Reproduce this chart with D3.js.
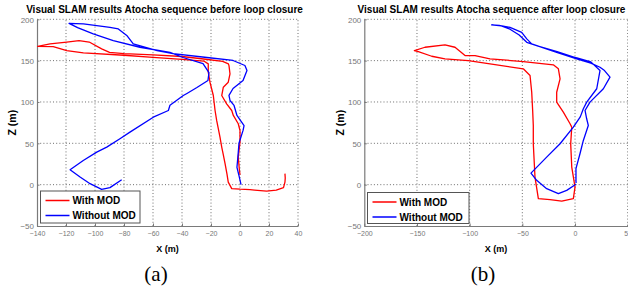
<!DOCTYPE html>
<html>
<head>
<meta charset="utf-8">
<script src="https://cdn.jsdelivr.net/npm/d3@7"></script>
<style>
  body { margin: 0; background: #fff; }
</style>
</head>
<body>
<svg class="chart" width="628" height="290"></svg>
<script>
// tick labels
const yTicks = [-50, 0, 50, 100, 150, 200]
const xTicksA = [-140, -120, -100, -80, -60, -40, -20, 0, 20, 40]
const xTicksB = [-200, -150, -100, -50, 0, 50]
const seriesNames = ["With MOD", "Without MOD"]
const seriesColors = ["#ff0000", "#0000ff"]

// (a) before loop closure, [X, Z] in metres
const redA = [[31,13.3],[31.2,8],[31,3],[30,-3.6],[25,-6.5],[18.4,-7.7],[10,-6.5],[6.9,-6],[0,-5.5],[-5.7,-4.8],
  [-8.1,3.1],[-9,13],[-10.3,25.4],[-11.5,36],[-12.6,45.4],[-13.8,57.5],[-15,68],[-16.1,77.7],[-17.2,89.7],
  [-18.4,107.8],[-20.7,123.9],[-21.9,136],[-21.9,146.1],[-25,149.5],[-40,151.5],[-60,154],[-80,156.5],
  [-108,159.4],[-119.5,162.2],[-128.8,167],[-139.5,167.2],[-131,170.3],[-119.5,172.5],[-111,174.3],
  [-104,172.5],[-95.4,164.3],[-90,160],[-80,158.5],[-60,157],[-40,155],[-25,152],[-12,149],[-8,146],
  [-7.6,144],[-6.9,134],[-8.1,123.9],[-11.5,117.9],[-12.6,107.8],[-9.2,97.8],[-5.7,89.7],[-4.6,83.7],
  [-1.2,73.7],[0,65.5],[0,51.4],[-1.2,33.3],[-0.5,19.3],[0,12]]
const blueA = [[0.7,0],[-0.7,11],[-2.1,21],[-1.4,35],[-0.7,50],[2.1,65.6],[2.8,71.5],[-2.1,83.7],[-4.1,95.8],
  [-6.9,101.8],[-7.6,108],[-4.8,116.3],[2.1,126],[4.8,138.1],[3.4,144.1],[-4.8,150.2],[-22.8,153.8],
  [-46.2,158.6],[-57.2,162.2],[-73.6,170.3],[-78.1,180.5],[-83.9,188.4],[-89.7,190.3],[-98.8,192.4],
  [-108,194.4],[-117.9,195],[-112,190],[-101.2,182.4],[-87.4,174.3],[-69,166.2],[-48.3,160.1],
  [-39.3,153.8],[-25.5,146.5],[-21.4,135.6],[-22.1,126],[-29.7,117.5],[-36.6,110.3],[-39.1,107.8],
  [-48.3,96],[-49.4,89.7],[-59.8,81.6],[-75.9,63.5],[-82.8,55.6],[-91.9,45.4],[-98.8,39.4],[-108.1,29.3],
  [-117.2,18.1],[-110.3,9.2],[-103.4,1.2],[-95.4,-5.7],[-89.7,-3.6],[-81.6,6]]

// (b) after loop closure
const redB = [[-3.1,69.6],[-4.7,73.7],[-11.1,87.7],[-17.4,99.8],[-17.4,111.8],[-14.2,128],[-15.8,140.1],
  [-20.6,144.9],[-49.1,148.9],[-80.7,152.2],[-94.9,156],[-104.4,156.2],[-113.9,166.2],[-123.4,169.1],
  [-142.4,166.2],[-152.5,162.2],[-148.7,161],[-136,155.3],[-123.4,152.2],[-101.3,150.1],[-80.7,146.1],
  [-49.1,140.1],[-42.7,132],[-41.1,111.8],[-40.2,89.7],[-39.6,71.6],[-39.6,49.5],[-38,9.2],[-34.8,-16.9],
  [-23.7,-18.1],[-12.6,-19.8],[-1.6,-16.9],[0,-2.9],[-3.1,21.3],[-4.1,49.5],[-3.1,69.6]]
const blueB = [[1,2],[0.9,5.2],[0.9,19.3],[4.7,37.4],[7.9,53.5],[12.6,71.6],[11,80],[9.5,89.7],[14.2,99.8],
  [26.9,116],[33.2,130],[28,138],[23.7,142],[15,147],[1.6,152.2],[-17.4,160.1],[-30,165.5],[-41.1,170.3],
  [-45.8,176.3],[-50.6,184.3],[-61.7,190.3],[-72,192.5],[-79.1,193.2],[-70,192],[-61.7,188],[-53,181],
  [-45.8,172.2],[-35,167.5],[-17,161],[1,153.5],[15,148.5],[23.7,138],[20.6,116],[11.1,99.8],[7.9,91.8],
  [5,82],[-1.6,69.6],[-14.2,49.5],[-26.9,33.3],[-41.8,14],[-36.4,5.2],[-26.9,-4.8],[-15.8,-10.9],
  [-7.9,-6.9],[0.9,0.4]]

const svg = d3.select("svg.chart").style("font-family", "'Liberation Sans', Arial, sans-serif")

const yScale = d3.scaleLinear().domain([-50, 200]).range([226, 19.3])

const panels = [
  { title: "Visual SLAM results Atocha sequence before loop closure", titleX: 164.5, tag: "(a)", tagX: 156,
    x: d3.scaleLinear().domain([-140, 40]).range([37, 298]), ticks: xTicksA,
    red: redA, blue: blueA, zX: 12, legend: [40.5, 191, 99.5, 32] },
  { title: "Visual SLAM results Atocha sequence after loop closure", titleX: 491.5, tag: "(b)", tagX: 483,
    x: d3.scaleLinear().domain([-200, 50]).range([364.3, 627.7]), ticks: xTicksB,
    red: redB, blue: blueB, zX: 340, legend: [367.5, 192.5, 101.5, 31] }
]

panels.forEach(p => {
  const g = svg.append("g")
  const [x0, x1] = p.x.range()

  // dotted grid
  g.selectAll("line.vg").data(p.ticks.slice(1)).enter().append("line")
    .attr("x1", d => p.x(d)).attr("x2", d => p.x(d))
    .attr("y1", yScale(-50)).attr("y2", yScale(200))
    .attr("stroke", "#5e5e5e").attr("stroke-width", 0.9).attr("stroke-dasharray", "1,2.2")
  g.selectAll("line.hg").data(yTicks.slice(1)).enter().append("line")
    .attr("x1", x0).attr("x2", x1)
    .attr("y1", d => yScale(d)).attr("y2", d => yScale(d))
    .attr("stroke", "#5e5e5e").attr("stroke-width", 0.9).attr("stroke-dasharray", "1,2.2")

  // axes
  const xAxis = g.append("g").attr("transform", `translate(0,${yScale(-50)})`)
    .call(d3.axisBottom(p.x).tickValues(p.ticks).tickSizeInner(-2.5).tickSizeOuter(0).tickPadding(5))
  const yAxis = g.append("g").attr("transform", `translate(${x0},0)`)
    .call(d3.axisLeft(yScale).tickValues(yTicks).tickSizeInner(-2.5).tickSizeOuter(0).tickPadding(3))
  ;[xAxis, yAxis].forEach(a => {
    a.attr("font-family", null)
    a.select(".domain").attr("stroke", "#7a7a7a").attr("stroke-width", 1.2)
    a.selectAll(".tick line").attr("stroke", "#7a7a7a")
    a.selectAll("text").attr("fill", "#777")
  })
  xAxis.selectAll("text").attr("font-size", 7)
  yAxis.selectAll("text").attr("font-size", 8).attr("dy", "0.35em")

  // trajectories
  const line = d3.line().x(d => p.x(d[0])).y(d => yScale(d[1]))
  ;[p.red, p.blue].forEach((s, i) => {
    g.append("path").datum(s).attr("d", line)
      .attr("fill", "none").attr("stroke", seriesColors[i]).attr("stroke-width", 1.3)
      .attr("stroke-linejoin", "round")
  })

  // labels
  g.append("text").attr("x", p.titleX).attr("y", 12.5).attr("text-anchor", "middle")
    .attr("font-size", 10).attr("font-weight", "bold").text(p.title)
  g.append("text").attr("x", (x0 + x1) / 2).attr("y", 252).attr("text-anchor", "middle")
    .attr("font-size", 9).attr("font-weight", "bold").text("X (m)")
  g.append("text").attr("transform", `translate(${p.zX + 4},${(yScale(-50) + yScale(200)) / 2}) rotate(-90)`)
    .attr("text-anchor", "middle").attr("font-size", 10.5).attr("font-weight", "bold").text("Z (m)")
  g.append("text").attr("x", p.tagX).attr("y", 281).attr("text-anchor", "middle")
    .style("font-family", "'Liberation Serif', 'DejaVu Serif', serif").attr("font-size", 21).text(p.tag)

  // legend
  const [lx, ly, lw, lh] = p.legend
  g.append("rect").attr("x", lx).attr("y", ly).attr("width", lw).attr("height", lh)
    .attr("fill", "#fff").attr("stroke", "#555").attr("stroke-width", 1)
  seriesNames.forEach((n, i) => {
    const yy = ly + 9.5 + i * 15
    g.append("line").attr("x1", lx + 5).attr("x2", lx + 29).attr("y1", yy).attr("y2", yy)
      .attr("stroke", seriesColors[i]).attr("stroke-width", 1.5)
    g.append("text").attr("x", lx + 32).attr("y", yy + 3.6)
      .attr("font-size", 10).attr("font-weight", "bold").text(n)
  })
})
</script>
</body>
</html>
